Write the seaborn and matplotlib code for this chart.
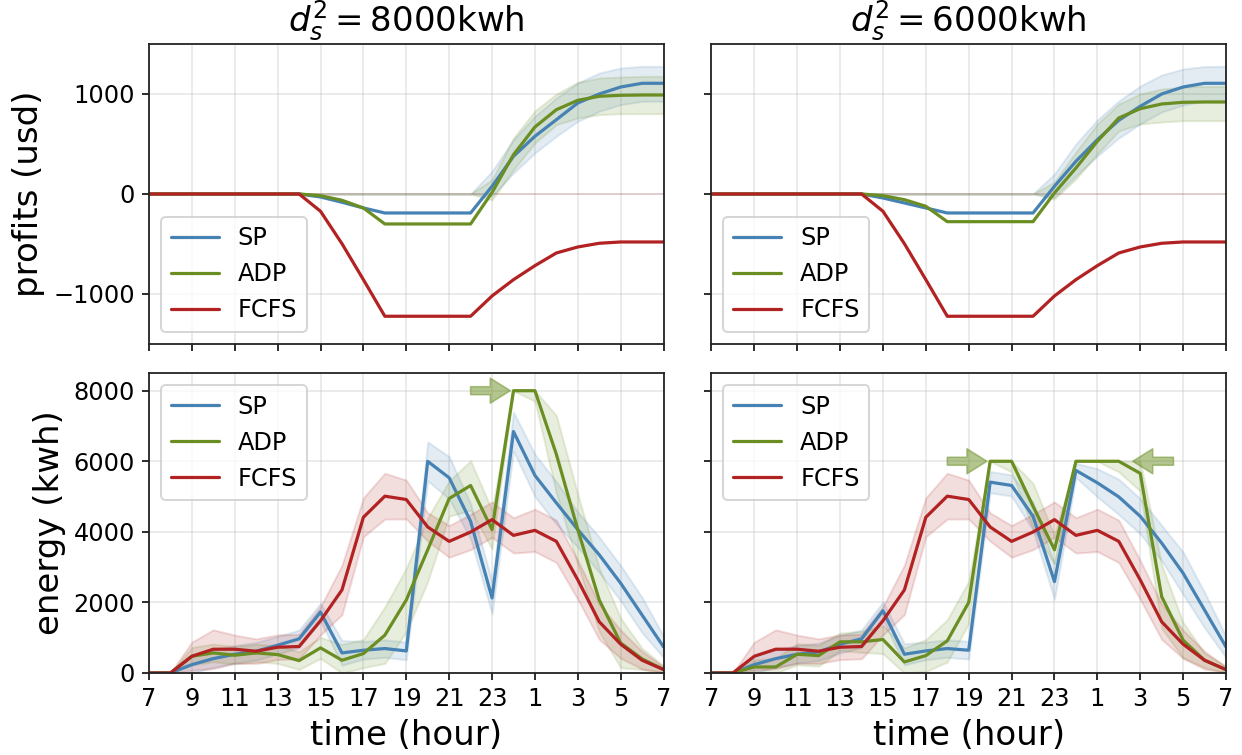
import matplotlib
matplotlib.use("Agg")
import matplotlib.pyplot as plt
import numpy as np
import seaborn as sns

# ---------------- data ----------------
hours = [7, 8, 9, 10, 11, 12, 13, 14, 15, 16, 17, 18, 19, 20, 21, 22, 23,
         24, 25, 26, 27, 28, 29, 30, 31]
tick_hours = [7, 9, 11, 13, 15, 17, 19, 21, 23, 25, 27, 29, 31]
tick_labels = ["7", "9", "11", "13", "15", "17", "19", "21", "23", "1", "3", "5", "7"]
methods = ["SP", "ADP", "FCFS"]
capacities = [8000, 6000]
titles = [r"$d_s^2 = 8000$kwh", r"$d_s^2 = 6000$kwh"]

# profits, d = 8000
profit_sp_8000 = [0, 0, 0, 0, 0, 0, 0, 0, -30, -83, -140, -190, -190, -190, -190, -190,
                  77, 377, 577, 743, 910, 1000, 1070, 1107, 1107]
profit_sp_8000_lo = [0, 0, 0, 0, 0, 0, 0, 0, 0, 0, 0, 0, 0, 0, 0, 0,
                     -23, 210, 410, 577, 727, 827, 893, 927, 927]
profit_sp_8000_hi = [0, 0, 0, 0, 0, 0, 0, 0, 0, 0, 0, 0, 0, 0, 0, 0,
                     227, 543, 777, 960, 1110, 1210, 1260, 1277, 1277]
profit_adp_8000 = [0, 0, 0, 0, 0, 0, 0, 0, -17, -63, -140, -300, -300, -300, -300, -300,
                   15, 393, 670, 843, 937, 977, 987, 990, 990]
profit_adp_8000_lo = [0, 0, 0, 0, 0, 0, 0, 0, 0, 0, 0, 0, 0, 0, 0, 0,
                      -60, 243, 510, 693, 760, 793, 803, 803, 803]
profit_adp_8000_hi = [0, 0, 0, 0, 0, 0, 0, 0, 0, 0, 0, 0, 0, 0, 0, 0,
                      143, 560, 830, 1000, 1117, 1160, 1170, 1177, 1177]

# profits, d = 6000
profit_sp_6000 = [0, 0, 0, 0, 0, 0, 0, 0, -40, -90, -140, -190, -190, -190, -190, -190,
                  77, 327, 543, 737, 877, 1000, 1070, 1107, 1107]
profit_sp_6000_lo = [0, 0, 0, 0, 0, 0, 0, 0, 0, 0, 0, 0, 0, 0, 0, 0,
                     -30, 180, 380, 560, 700, 820, 890, 930, 930]
profit_sp_6000_hi = [0, 0, 0, 0, 0, 0, 0, 0, 0, 0, 0, 0, 0, 0, 0, 0,
                     200, 500, 740, 930, 1080, 1190, 1250, 1275, 1277]
profit_adp_6000 = [0, 0, 0, 0, 0, 0, 0, 0, -17, -57, -123, -277, -277, -277, -277, -277,
                   10, 260, 527, 760, 853, 900, 917, 920, 920]
profit_adp_6000_lo = [0, 0, 0, 0, 0, 0, 0, 0, 0, 0, 0, 0, 0, 0, 0, 0,
                      -50, 150, 400, 630, 700, 720, 733, 733, 733]
profit_adp_6000_hi = [0, 0, 0, 0, 0, 0, 0, 0, 0, 0, 0, 0, 0, 0, 0, 0,
                      120, 420, 700, 900, 1000, 1050, 1070, 1077, 1077]

# profits FCFS (same in both settings)
profit_fcfs = [0, 0, 0, 0, 0, 0, 0, 0, -173, -497, -857, -1223, -1223, -1223, -1223, -1223,
               -1020, -857, -717, -590, -530, -493, -480, -480, -480]
profit_fcfs_lo = [0, 0, 0, 0, 0, 0, 0, 0, 0, 0, 0, 0, 0, 0, 0, 0, 0, 0, 0, 0, 0, 0, 0, 0, 0]
profit_fcfs_hi = [0, 0, 0, 0, 0, 0, 0, 0, 0, 0, 0, 0, 0, 0, 0, 0, 0, 0, 0, 0, 0, 0, 0, 0, 0]

# energy, d = 8000
energy_sp_8000 = [0, 0, 237, 408, 531, 617, 788, 968, 1727, 569, 645, 693, 626,
                  5998, 5532, 4299, 2126, 6842, 5599, 4820, 4062, 3350, 2543, 1641, 740]
energy_sp_8000_sd = [0, 0, 250, 250, 250, 250, 250, 250, 250, 350, 250, 250, 250,
                     550, 600, 500, 450, 550, 600, 600, 500, 500, 500, 500, 300]
energy_adp_8000 = [0, 0, 475, 569, 503, 569, 522, 351, 712, 361, 550, 1072, 2069,
                   3492, 4944, 5314, 4062, 8000, 8000, 6197, 4062, 2069, 850, 400, 100]
energy_adp_8000_sd = [0, 0, 250, 250, 250, 250, 250, 250, 300, 450, 400, 800, 900,
                      900, 500, 700, 550, 0, 300, 1100, 1000, 900, 700, 300, 100]

# energy, d = 6000
energy_sp_6000 = [0, 0, 237, 408, 531, 598, 816, 968, 1765, 531, 626, 693, 645,
                  5409, 5314, 4441, 2591, 5741, 5390, 4991, 4441, 3682, 2828, 1784, 740]
energy_sp_6000_sd = [0, 0, 250, 250, 250, 250, 250, 250, 250, 300, 250, 250, 250,
                     300, 300, 400, 500, 200, 400, 500, 500, 500, 600, 500, 300]
energy_adp_6000 = [0, 0, 171, 171, 531, 493, 883, 883, 949, 313, 493, 911, 2000,
                   6000, 6000, 4726, 3492, 6000, 6000, 6000, 5657, 2164, 930, 361, 95]
energy_adp_6000_sd = [0, 0, 200, 250, 300, 300, 250, 300, 400, 400, 450, 600, 600,
                      0, 300, 650, 400, 0, 0, 300, 500, 900, 500, 200, 100]

# energy FCFS (same in both settings)
energy_fcfs = [0, 0, 475, 674, 674, 617, 731, 750, 1481, 2354, 4413, 5011, 4916,
               4138, 3730, 3995, 4346, 3900, 4043, 3730, 2638, 1452, 816, 361, 95]
energy_fcfs_sd = [0, 0, 400, 550, 400, 350, 350, 350, 400, 700, 550, 650, 550,
                  400, 450, 500, 500, 500, 600, 600, 550, 500, 400, 250, 80]

# annotation arrows (tail hour, head hour, level) per column
arrows = [
    [(22.0, 23.85, 8000)],
    [(18.0, 19.85, 6000), (28.55, 26.65, 6000)],
]

colors = {"SP": "#4682b4", "ADP": "#6b8e23", "FCFS": "#b22222"}

profit_series = [
    {"SP": (profit_sp_8000, profit_sp_8000_lo, profit_sp_8000_hi),
     "ADP": (profit_adp_8000, profit_adp_8000_lo, profit_adp_8000_hi),
     "FCFS": (profit_fcfs, profit_fcfs_lo, profit_fcfs_hi)},
    {"SP": (profit_sp_6000, profit_sp_6000_lo, profit_sp_6000_hi),
     "ADP": (profit_adp_6000, profit_adp_6000_lo, profit_adp_6000_hi),
     "FCFS": (profit_fcfs, profit_fcfs_lo, profit_fcfs_hi)},
]
energy_series = [
    {"SP": (energy_sp_8000, energy_sp_8000_sd),
     "ADP": (energy_adp_8000, energy_adp_8000_sd),
     "FCFS": (energy_fcfs, energy_fcfs_sd)},
    {"SP": (energy_sp_6000, energy_sp_6000_sd),
     "ADP": (energy_adp_6000, energy_adp_6000_sd),
     "FCFS": (energy_fcfs, energy_fcfs_sd)},
]

# ---------------- plot ----------------
sns.set_style("ticks")
plt.rcParams["font.family"] = ["DejaVu Sans"]
plt.rcParams["mathtext.fontset"] = "dejavusans"
plt.rcParams.update({
    "text.color": "black", "axes.labelcolor": "black",
    "xtick.color": "black", "ytick.color": "black",
    "axes.edgecolor": "#222222",
})

W, H, DPI = 1242, 755, 144
fig, axes = plt.subplots(2, 2, figsize=(W / DPI, H / DPI), dpi=DPI,
                         sharex=True, sharey="row")
fig.subplots_adjust(left=149 / W, right=1226 / W, top=1 - 44 / H,
                    bottom=1 - 673 / H, wspace=0.093, hspace=0.097)

for col in range(2):
    # profits
    ax = axes[0, col]
    for m in methods:
        mean, lo, hi = profit_series[col][m]
        ax.fill_between(hours, lo, hi, facecolor=colors[m], edgecolor=colors[m],
                        alpha=0.15, linewidth=1.0)
    for m in methods:
        mean = profit_series[col][m][0]
        sns.lineplot(x=hours, y=mean, color=colors[m], label=m, ax=ax, linewidth=1.6)
    ax.legend(loc="lower left", fontsize=12)
    ax.set_ylim(-1500, 1500)
    ax.set_yticks([-1000, 0, 1000])
    ax.set_title(titles[col], fontsize=17)

    # energy
    ax = axes[1, col]
    cap = capacities[col]
    for m in methods:
        mean, sd = energy_series[col][m]
        mean = np.asarray(mean, float)
        sd = np.asarray(sd, float)
        lo = np.clip(mean - sd, 0, None)
        hi = np.minimum(mean + sd, cap)
        ax.fill_between(hours, lo, hi, facecolor=colors[m], edgecolor=colors[m],
                        alpha=0.15, linewidth=1.0)
    for m in methods:
        mean = energy_series[col][m][0]
        sns.lineplot(x=hours, y=mean, color=colors[m], label=m, ax=ax, linewidth=1.6)
    ax.legend(loc="upper left", fontsize=12)
    ax.set_ylim(0, 8500)
    ax.set_yticks([0, 2000, 4000, 6000, 8000])
    for (x0, x1, yv) in arrows[col]:
        ax.annotate("", xy=(x1, yv), xytext=(x0, yv),
                    arrowprops=dict(arrowstyle="simple,head_length=1.0,head_width=1.25,tail_width=0.4",
                                    mutation_scale=10, facecolor=colors["ADP"],
                                    edgecolor=colors["ADP"], alpha=0.5,
                                    shrinkA=0, shrinkB=0, linewidth=0.8))
    ax.set_xlabel("time (hour)", fontsize=17)

for ax in axes.flat:
    ax.set_xlim(7, 31)
    ax.set_xticks(tick_hours)
    ax.grid(True, color="#b0b0b0", alpha=0.3, linewidth=0.8)
    ax.tick_params(labelsize=12, length=3.5, width=0.8)
    for s in ax.spines.values():
        s.set_linewidth(0.9)
    ax.set_ylabel("")

axes[1, 0].set_xticklabels(tick_labels)
axes[1, 1].set_xticklabels(tick_labels)
axes[0, 0].set_ylabel("profits (usd)", fontsize=17)
axes[1, 0].set_ylabel("energy (kwh)", fontsize=17)

fig.savefig("out.png", dpi=DPI)
